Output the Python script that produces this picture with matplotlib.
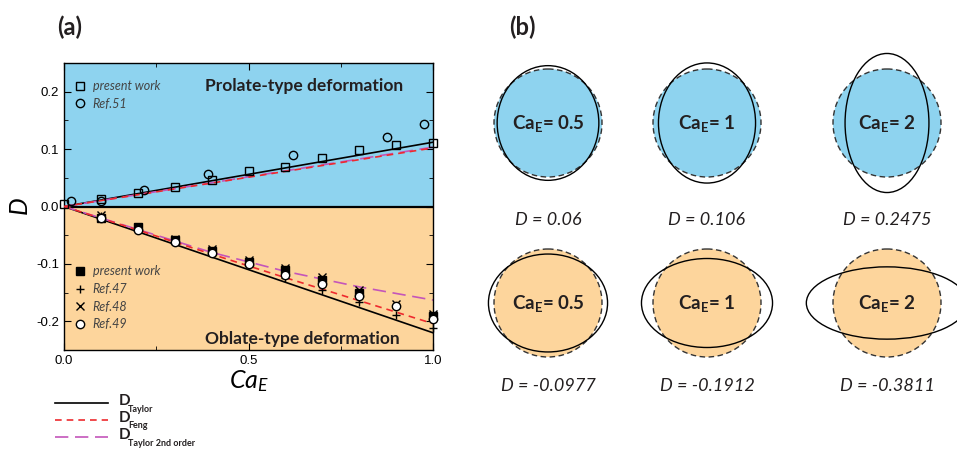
import numpy as np
import matplotlib.pyplot as plt
from matplotlib.lines import Line2D
from matplotlib.patches import Ellipse, Circle

plt.rcParams["font.family"] = ["Lato", "DejaVu Sans"]
plt.rcParams["axes.unicode_minus"] = False
plt.rcParams["mathtext.fontset"] = "custom"
plt.rcParams["mathtext.rm"] = "Lato"
plt.rcParams["mathtext.bf"] = "Lato:bold"
plt.rcParams["mathtext.it"] = "Lato:italic"

BLUE = "#8ED3EF"
ORANGE = "#FDD59C"
RED = "#EE2A2E"
MAGENTA = "#C455BA"
INK = "#231f20"

# ---- panel (a) data ----
ca_line = [0.0, 0.2, 0.4, 0.6, 0.8, 1.0]
taylor_pro = [0.0, 0.0224, 0.0448, 0.0672, 0.0896, 0.112]
feng_pro = [0.0, 0.0204, 0.0408, 0.0612, 0.0816, 0.102]
taylor2_pro = [0.0, 0.0207, 0.0414, 0.0621, 0.0828, 0.1035]
taylor_obl = [0.0, -0.044, -0.088, -0.132, -0.176, -0.220]
feng_obl = [0.0, -0.041, -0.083, -0.124, -0.164, -0.204]
taylor2_obl = [0.0, -0.040, -0.080, -0.113, -0.140, -0.163]

ca_pw = [0.0, 0.1, 0.2, 0.3, 0.4, 0.5, 0.6, 0.7, 0.8, 0.9, 1.0]
d_pw_pro = [0.005, 0.013, 0.024, 0.034, 0.047, 0.061, 0.069, 0.084, 0.098, 0.108, 0.110]

ca_ref51 = [0.02, 0.1, 0.216, 0.39, 0.62, 0.876, 0.976]
d_ref51 = [0.009, 0.009, 0.029, 0.056, 0.090, 0.121, 0.144]

ca_pw_obl = [0.1, 0.2, 0.3, 0.4, 0.5, 0.6, 0.7, 0.8, 1.0]
d_pw_obl = [-0.020, -0.036, -0.059, -0.078, -0.096, -0.110, -0.128, -0.150, -0.190]

ca_ref = [0.1, 0.2, 0.3, 0.4, 0.5, 0.6, 0.7, 0.8, 0.9, 1.0]
d_ref47 = [-0.017, -0.037, -0.058, -0.077, -0.098, -0.125, -0.145, -0.166, -0.189, -0.212]
d_ref48 = [-0.014, -0.035, -0.056, -0.074, -0.093, -0.107, -0.122, -0.145, -0.169, -0.187]
d_ref49 = [-0.020, -0.041, -0.061, -0.081, -0.101, -0.120, -0.135, -0.156, -0.174, -0.196]

# ---- panel (b) data ----
ca_shapes = ["0.5", "1", "2"]
d_prolate = [0.06, 0.106, 0.2475]
d_oblate = [-0.0977, -0.1912, -0.3811]

fig = plt.figure(figsize=(9.57, 4.49), dpi=100)

ax = fig.add_axes([64 / 957, 1 - 350 / 449, 369 / 957, 287 / 449])
ax.axhspan(0, 0.25, color=BLUE, lw=0, zorder=0)
ax.axhspan(-0.25, 0, color=ORANGE, lw=0, zorder=0)
ax.axhline(0, color="black", lw=1.6, zorder=1)

ax.plot(ca_line, taylor_pro, color="black", lw=1.2, zorder=2)
ax.plot(ca_line, feng_pro, color=RED, lw=1.2, dashes=(4, 3), zorder=3)
ax.plot(ca_line, taylor2_pro, color=MAGENTA, lw=1.2, dashes=(8, 4), zorder=2)
ax.plot(ca_line, taylor_obl, color="black", lw=1.2, zorder=2)
ax.plot(ca_line, feng_obl, color=RED, lw=1.2, dashes=(4, 3), zorder=3)
ax.plot(ca_line, taylor2_obl, color=MAGENTA, lw=1.2, dashes=(8, 4), zorder=2)

mk = dict(ls="none", ms=6, mew=1.0, clip_on=False, zorder=4)
h_pw = ax.plot(ca_pw, d_pw_pro, marker="s", mfc="none", mec="black", **mk)[0]
h_51 = ax.plot(ca_ref51, d_ref51, marker="o", mfc="none", mec="black", **mk)[0]
h_pwo = ax.plot(ca_pw_obl, d_pw_obl, marker="s", mfc="black", mec="black", **mk)[0]
h_47 = ax.plot(ca_ref, d_ref47, marker="+", color="black", **mk)[0]
h_48 = ax.plot(ca_ref, d_ref48, marker="x", color="black", **mk)[0]
h_49 = ax.plot(ca_ref, d_ref49, marker="o", mfc="white", mec="black", **mk)[0]

ax.set_xlim(0, 1)
ax.set_ylim(-0.25, 0.25)
ax.set_xticks([0, 0.5, 1.0])
ax.set_xticklabels(["0.0", "0.5", "1.0"])
ax.set_xticks([0.25, 0.75], minor=True)
ax.set_yticks([-0.2, -0.1, 0.0, 0.1, 0.2])
ax.set_yticklabels(["-0.2", "-0.1", "0.0", "0.1", "0.2"])
ax.set_yticks(np.arange(-0.25, 0.26, 0.05), minor=True)
ax.tick_params(which="both", direction="in", top=True, right=True,
               labelsize=9.5, labelfontfamily="Liberation Sans")
ax.tick_params(which="major", length=5)
ax.tick_params(which="minor", length=3)
for s in ax.spines.values():
    s.set_linewidth(1.0)

ax.set_xlabel(r"$\it{Ca}_{\it{E}}$", fontsize=18, labelpad=1)
ax.set_ylabel(r"$\it{D}$", fontsize=18, labelpad=3)

ax.text(0.65, 0.92, "Prolate-type deformation", transform=ax.transAxes,
        ha="center", va="center", fontsize=12.5, fontweight="bold", color=INK)
ax.text(0.645, 0.04, "Oblate-type deformation", transform=ax.transAxes,
        ha="center", va="center", fontsize=12.5, fontweight="bold", color=INK)

leg_kw = dict(frameon=False, handlelength=0.8, handletextpad=0.6,
              prop=dict(style="italic", size=9), labelcolor="#444444")
leg1 = ax.legend([h_pw, h_51], ["present work", "Ref.51"], loc="upper left",
                 bbox_to_anchor=(0.0, 0.98), labelspacing=0.45, **leg_kw)
ax.add_artist(leg1)
ax.legend([h_pwo, h_47, h_48, h_49], ["present work", "Ref.47", "Ref.48", "Ref.49"],
          loc="lower left", bbox_to_anchor=(0.0, 0.03), labelspacing=0.45, **leg_kw)

fig.text(70 / 957, 1 - 27 / 449, "(a)", ha="center", va="center",
         fontsize=17, fontweight="bold", color=INK)

# line-style key below panel (a)
key_styles = [dict(color="black"), dict(color=RED, dashes=(4, 3)),
              dict(color=MAGENTA, dashes=(8, 4))]
key_subs = ["Taylor", "Feng", "Taylor 2nd order"]
for i, (style, sub) in enumerate(zip(key_styles, key_subs)):
    y = 1 - (403 + 17 * i) / 449
    fig.add_artist(Line2D([55 / 957, 108 / 957], [y, y], lw=1.2,
                          transform=fig.transFigure, **style))
    fig.text(119 / 957, y + 2 / 449, "D", ha="left", va="center",
             fontsize=11, fontweight="bold", color=INK)
    fig.text(128 / 957, y - 6 / 449, sub, ha="left", va="center",
             fontsize=6.5, fontweight="bold", color=INK)

# ---- panel (b): drop shapes ----
axb = fig.add_axes([470 / 957, 0, 487 / 957, 1])
axb.set_xlim(470, 957)
axb.set_ylim(449, 0)
axb.axis("off")

col_x = [548, 707, 887]
row_y = [123, 303]
label_y = [220, 386]
r0 = 54

for row, (dvals, color) in enumerate([(d_prolate, BLUE), (d_oblate, ORANGE)]):
    for cx, ca, d in zip(col_x, ca_shapes, dvals):
        cy = row_y[row]
        ratio = (1 + d) / (1 - d)
        axb.add_patch(Circle((cx, cy), r0, facecolor=color, edgecolor="none"))
        axb.add_patch(Circle((cx, cy), r0, facecolor="none", edgecolor="#333333",
                             lw=1.0, ls=(0, (4, 2.5))))
        axb.add_patch(Ellipse((cx, cy), 2 * r0 / np.sqrt(ratio), 2 * r0 * np.sqrt(ratio),
                              facecolor="none", edgecolor="black", lw=1.0))
        axb.text(cx, cy, r"$\mathbf{Ca_E}$= %s" % ca, ha="center", va="center",
                 fontsize=13.5, fontweight="bold", color=INK)
        axb.text(cx, label_y[row], "D = %s" % d, ha="center", va="center",
                 fontsize=13, style="italic", color=INK)

fig.text(522 / 957, 1 - 27 / 449, "(b)", ha="center", va="center",
         fontsize=17, fontweight="bold", color=INK)

fig.savefig("out.png", dpi=100)
